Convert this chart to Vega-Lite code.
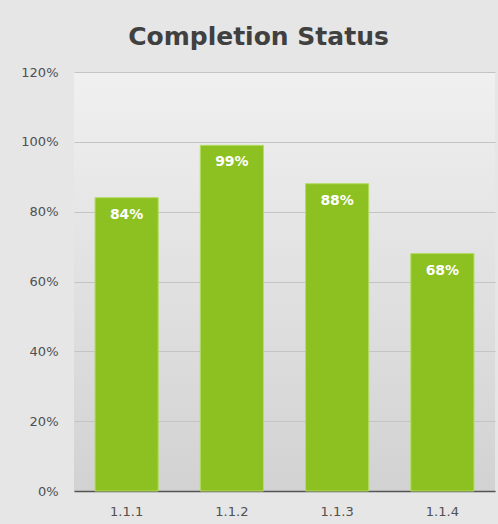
{
  "$schema": "https://vega.github.io/schema/vega-lite/v6.json",
  "width": 421,
  "height": 419,
  "autosize": {"type": "none"},
  "padding": {"left": 74, "top": 72, "right": 3, "bottom": 33},
  "background": "#e6e6e6",
  "title": {
    "text": "Completion  Status",
    "font": "DejaVu Sans",
    "fontSize": 25,
    "fontWeight": "bold",
    "color": "#404040",
    "anchor": "middle",
    "dx": -26,
    "offset": 16
  },
  "data": {
    "values": [
      {"task": "1.1.1", "pct": 0.84},
      {"task": "1.1.2", "pct": 0.99},
      {"task": "1.1.3", "pct": 0.88},
      {"task": "1.1.4", "pct": 0.68}
    ]
  },
  "encoding": {
    "x": {
      "field": "task",
      "type": "nominal",
      "sort": null,
      "scale": {"paddingInner": 0.4, "paddingOuter": 0.2},
      "axis": {
        "title": null,
        "labelAngle": 0,
        "labelFont": "DejaVu Sans",
        "labelFontSize": 13,
        "labelColor": "#505050",
        "labelPadding": 14,
        "ticks": false,
        "domainColor": "#555555",
        "domainWidth": 1.5,
        "grid": false
      }
    },
    "y": {
      "field": "pct",
      "type": "quantitative",
      "scale": {"domain": [0, 1.2], "nice": false},
      "axis": {
        "title": null,
        "format": ".0%",
        "values": [0, 0.2, 0.4, 0.6, 0.8, 1.0, 1.2],
        "labelFont": "DejaVu Sans",
        "labelFontSize": 13,
        "labelColor": "#505050",
        "labelPadding": 16,
        "ticks": false,
        "domain": false,
        "gridColor": "#c4c4c4",
        "gridWidth": 1
      }
    }
  },
  "layer": [
    {
      "mark": {"type": "bar", "color": "#8dc021", "stroke": "#b4dc62", "strokeWidth": 1}
    },
    {
      "mark": {"type": "text", "baseline": "middle", "dy": 17, "font": "DejaVu Sans", "fontSize": 14, "fontWeight": "bold", "color": "white"},
      "encoding": {
        "text": {"field": "pct", "type": "quantitative", "format": ".0%"}
      }
    }
  ],
  "config": {
    "view": {
      "stroke": null,
      "fill": {
        "gradient": "linear",
        "x1": 0, "y1": 0, "x2": 0, "y2": 1,
        "stops": [
          {"offset": 0, "color": "#f0f0f0"},
          {"offset": 1, "color": "#d2d2d2"}
        ]
      }
    }
  }
}
